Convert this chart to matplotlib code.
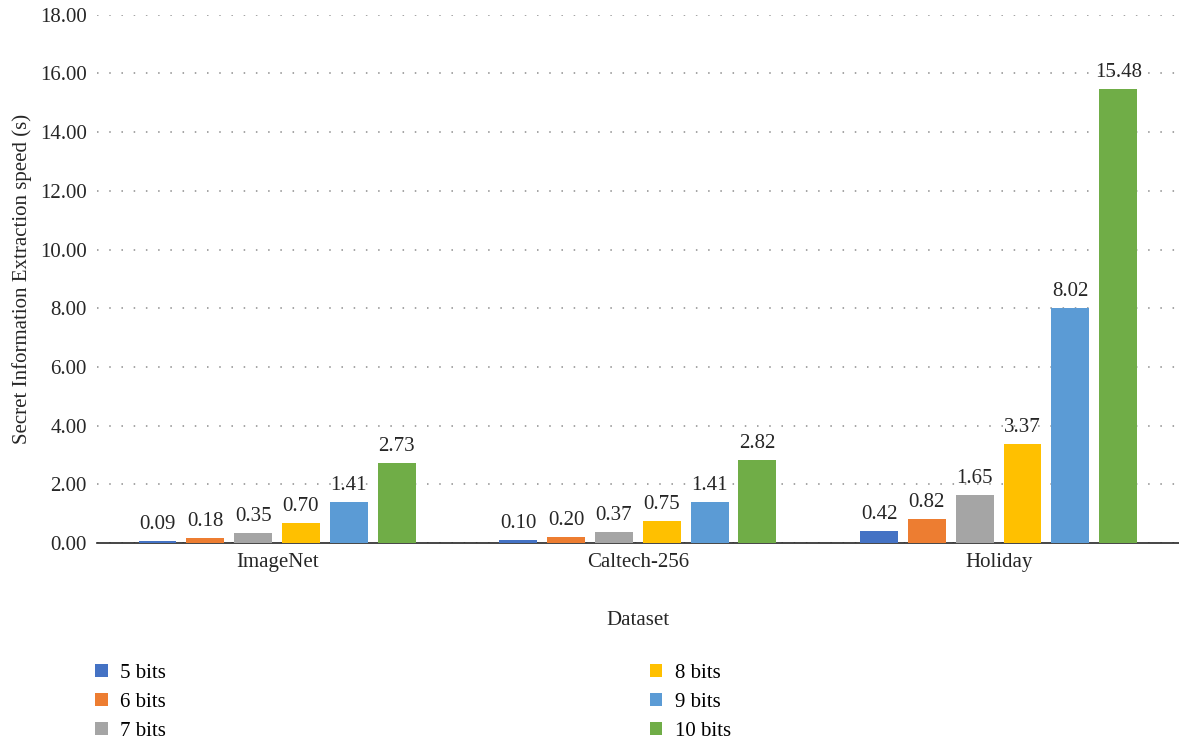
import numpy as np
import matplotlib.pyplot as plt

plt.rcParams['font.family'] = ['Liberation Serif', 'DejaVu Serif']

datasets = ['ImageNet', 'Caltech-256', 'Holiday']
series = ['5 bits', '6 bits', '7 bits', '8 bits', '9 bits', '10 bits']
values = [
    [0.09, 0.10, 0.42],
    [0.18, 0.20, 0.82],
    [0.35, 0.37, 1.65],
    [0.70, 0.75, 3.37],
    [1.41, 1.41, 8.02],
    [2.73, 2.82, 15.48],
]
colors = ['#4472C4', '#ED7D31', '#A5A5A5', '#FFC000', '#5B9BD5', '#70AD47']

fs = 15
txt = '#262626'

fig = plt.figure(figsize=(11.79, 7.39), dpi=100)
ax = fig.add_axes([0.082, 0.265, 0.918, 0.715])

x = np.arange(len(datasets))
step = 0.1326
width = 0.105
handles = []
for i, (name, vals) in enumerate(zip(series, values)):
    pos = x + (i - 2.5) * step
    b = ax.bar(pos, vals, width, color=colors[i], label=name, zorder=3)
    handles.append(b)
    for p, v in zip(pos, vals):
        ax.annotate(f'{v:.2f}', (p, v), xytext=(0, 5), textcoords='offset points',
                    ha='center', va='bottom', fontsize=fs, color=txt)

ax.set_xlim(-0.5, 2.5)
ax.set_ylim(0, 18)
ticks = np.arange(0, 18.01, 2)
ax.set_yticks(ticks)
ax.set_yticklabels([f'{t:.2f}' for t in ticks])
ax.set_xticks(x)
ax.set_xticklabels(datasets)
ax.tick_params(length=0, labelsize=fs, colors=txt, pad=7)
ax.yaxis.grid(True, linestyle=(0, (1, 7)), color='#8c8c8c', linewidth=1.1)
ax.set_axisbelow(True)
for s in ['top', 'right', 'left']:
    ax.spines[s].set_visible(False)
ax.spines['bottom'].set_color(txt)
ax.spines['bottom'].set_linewidth(1.2)

ax.set_ylabel('Secret Information Extraction speed (s)', fontsize=fs, color=txt, labelpad=6)
ax.set_xlabel('Dataset', fontsize=fs, color=txt, labelpad=28)

leg_kw = dict(loc='upper left', frameon=False, fontsize=fs,
              handlelength=0.6, handleheight=0.6, handletextpad=0.6,
              labelspacing=0.48, borderaxespad=0, borderpad=0)
fig.legend(handles=handles[:3], labels=series[:3],
           bbox_to_anchor=(0.081, 0.102), **leg_kw)
fig.legend(handles=handles[3:], labels=series[3:],
           bbox_to_anchor=(0.551, 0.102), **leg_kw)

fig.savefig('out.png', dpi=100)
